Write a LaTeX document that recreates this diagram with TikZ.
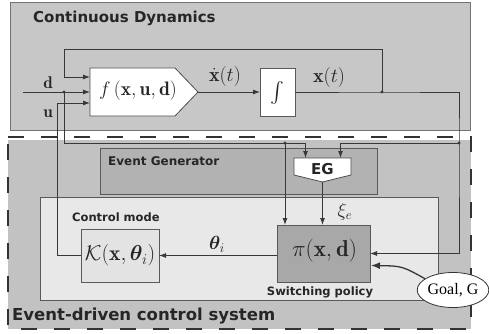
\RequirePackage{fix-cm}
\documentclass[tikz,border=0pt]{standalone}
\usepackage{amsmath}
\usepackage{exscale}
\usepackage{bm}
\usepackage{fontspec}
\usetikzlibrary{arrows.meta,calc,shapes.geometric}
\newfontfamily\dv{DejaVu Sans}
\newfontfamily\lser{Liberation Serif}
\definecolor{topfill}{gray}{0.78}
\definecolor{botfill}{gray}{0.76}
\definecolor{egfill}{gray}{0.70}
\definecolor{ctrlfill}{gray}{0.91}
\definecolor{kfill}{gray}{0.89}
\definecolor{pifill}{gray}{0.66}
\definecolor{wirec}{gray}{0.22}
\tikzset{
  wire/.style={draw=wirec, line width=0.9pt},
  arr/.style={wire, -{Latex[length=7pt,width=5pt]}},
  blk/.style={draw=black!65, line width=0.8pt, inner sep=0, outer sep=0, anchor=north west},
  ghost/.style={inner sep=0, outer sep=0, anchor=north west},
  ttl/.style={inner sep=0, anchor=west, text=black!85},
  mth/.style={inner sep=0, text=black!85},
  jdot/.style={fill=wirec},
}
\newcommand{\fsz}[1]{\fontsize{#1}{#1}\selectfont}
\begin{document}
\begin{tikzpicture}[x=1pt,y=-1pt]
\useasboundingbox (0,0) rectangle (489,334);
% containers
\node[blk, draw=black!55, fill=topfill, minimum width=460pt, minimum height=128pt] (cd) at (10,2) {};
\node[ghost, fill=botfill, minimum width=463pt, minimum height=189pt] (ed) at (8,140) {};
\draw[draw=black!80, line width=2.2pt, dash pattern=on 16pt off 17pt] (ed.north west |- 0,137) -- (ed.north east |- 0,137) -- (ed.south east) -- (ed.south west) -- cycle;
\node[blk, fill=egfill] (egbox) at (100,148) [minimum width=277pt, minimum height=46pt] {};
\node[blk, fill=ctrlfill] (ctrl) at (40,197) [minimum width=398pt, minimum height=103pt] {};
% titles
\node[ttl, font=\dv\bfseries\fsz{15}] (t1) at (33,18) {Continuous Dynamics};
\node[ttl, font=\dv\bfseries\fsz{12}] (t2) at (108,161) {Event Generator};
\node[ttl, font=\dv\bfseries\fsz{11.5}] (t3) at (72,217) {Control mode};
\node[mth, font=\dv\bfseries\fsz{11.5}] (t4) at (320,292) {Switching policy};
\node[ttl, font=\dv\bfseries\fsz{16.5}] (t5) at (12,316) {Event-driven control system};
% f block
\node[ghost, minimum width=108pt, minimum height=48pt] (f) at (90,68) {};
\draw[draw=black!70, line width=0.8pt, fill=white] (f.north west) -- (175,68) -- (f.east) -- (175,116) -- (f.south west) -- cycle;
\node[mth, font=\fsz{19.5}] (ftxt) at (138,91) {$f\,(\mathbf{x},\mathbf{u},\mathbf{d})$};
% integrator
\node[blk, fill=white, minimum width=35pt, minimum height=48pt] (I) at (260,68) {};
\node[mth, font=\fsz{20}] (itxt) at ($(I.center)+(0,1)$) {$\int$};
% EG
\node[ghost, minimum width=57pt, minimum height=24pt] (eg) at (294,158) {};
\draw[draw=black!70, line width=0.8pt, fill=white] (eg.north west) -- (eg.north east) -- (351,175) -- (eg.south) -- (294,175) -- cycle;
\node[mth, font=\dv\bfseries\fsz{15}] (egtxt) at (322.5,169) {EG};
% K and pi
\node[blk, fill=kfill, minimum width=78pt, minimum height=53pt] (K) at (81,229) {};
\node[mth, font=\fsz{21.5}] (ktxt) at (K.center) {$\mathcal{K}(\mathbf{x},\bm{\theta}_i)$};
\node[blk, fill=pifill, minimum width=93pt, minimum height=57pt] (pi) at (277,225) {};
\node[mth, font=\fsz{23}] (pitxt) at (324.5,251) {$\pi(\mathbf{x},\mathbf{d})$};
\node[draw=black!80, line width=0.8pt, fill=white, ellipse, minimum width=71pt, minimum height=35pt, inner sep=0, font=\lser\fsz{16}] (goal) at (453,290) {Goal, G};
% labels
\node[mth, font=\fsz{17}] (ld) at (48,83) {$\mathbf{d}$};
\node[mth, font=\fsz{17}] (lu) at (48,114) {$\mathbf{u}$};
\node[mth, font=\fsz{20}] (lxd) at (225,77) {$\dot{\mathbf{x}}(t)$};
\node[mth, font=\fsz{20}] (lx) at (329,78) {$\mathbf{x}(t)$};
\node[mth, font=\fsz{19}] (lth) at (217,244) {$\bm{\theta}_i$};
\node[mth, font=\fsz{19}] (lxi) at (345,212) {$\xi_e$};
% junctions
\coordinate (din) at (23,92);
\coordinate (jd) at (64,92);
\coordinate (jx) at (382,92);
\coordinate (jx2) at (459,143);
\coordinate (jd2) at (285,143);
% wires
\draw[arr] (din) -- (f.west);
\draw[arr] (jx) -- (382,49) -- (64,49) -- (64,77) -- ($(f.west)+(0,-15)$);
\draw[arr] (K.west) -- (57,255.5) -- (57,103) -- ($(f.west)+(0,11)$);
\draw[arr] (f.east) -- (I.west);
\draw[arr] (I.east) -- (jx) -- (459,92) -- (jx2) -- (jx2 |- pi.east) -- (pi.east);
\draw[wire] (jd) -- (64,143) -- (jd2);
\draw[arr] (jd2) -- (jd2 |- pi.north);
\draw[arr] (jd2) -| ($(eg.north)+(-17,0)$);
\draw[arr] (jx2) -| ($(eg.north)+(18,0)$);
\draw[arr] (eg.south) -- (eg.south |- pi.north);
\draw[arr] (pi.west |- K.east) -- (K.east);
\draw[wirec, line width=1.3pt, -{Latex[length=9pt,width=7pt]}] (goal.158) .. controls (402,266) .. ($(pi.east)+(1,12)$);
\foreach \p in {jd,jx,jx2,jd2} \fill[jdot] (\p) circle (1.6pt);
\end{tikzpicture}
\end{document}
